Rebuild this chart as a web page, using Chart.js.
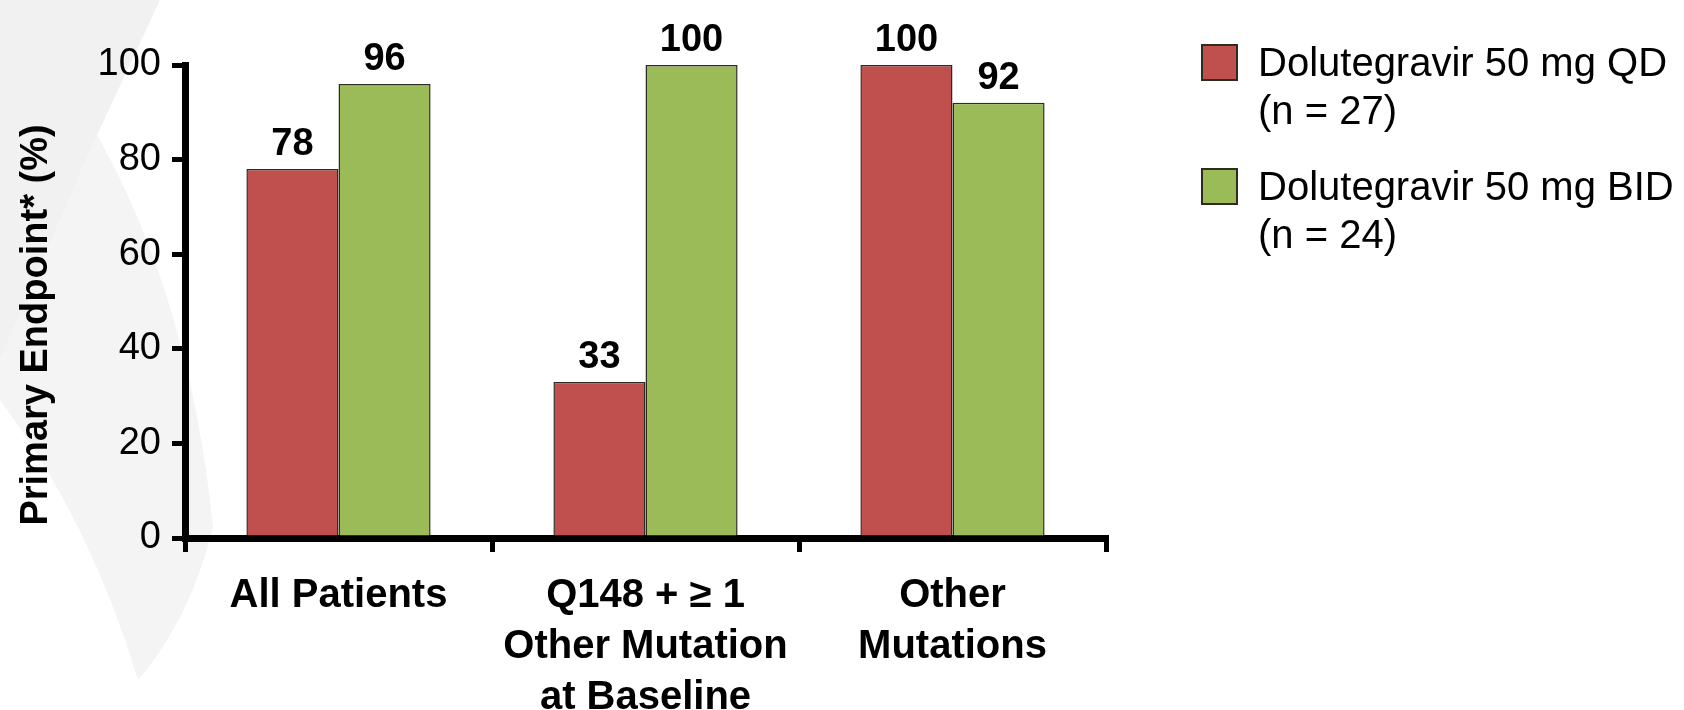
<!DOCTYPE html>
<html>
<head>
<meta charset="utf-8">
<script src="https://cdn.jsdelivr.net/npm/chart.js@4.4.1/dist/chart.umd.min.js"></script>
<style>
  html,body{margin:0;padding:0;background:#fff}
  #wrap{position:relative;width:1684px;height:710px}
</style>
</head>
<body>
<div id="wrap"><canvas id="gbar"></canvas></div>
<script>
/* ─ data ─ */
const categories=[['All Patients'],['Q148 + ≥ 1','Other Mutation','at Baseline'],['Other','Mutations']];
const qdValues=[78,33,100];
const bidValues=[96,100,92];
const seriesNames=['Dolutegravir 50 mg QD','Dolutegravir 50 mg BID'];
const seriesCounts=['(n = 27)','(n = 24)'];
const yTicks=[0,20,40,60,80,100];
const yTitle='Primary Endpoint* (%)';

const RED='#C0504D',GREEN='#9BBB59',EDGE='#2e2b22';
const FONT="'Liberation Sans', Arial, Helvetica, sans-serif";

/* ─ faint watermark behind the plot ─ */
const bgShape={
  id:'bgShape',
  beforeDraw(c){
    const x=c.ctx;
    x.save();
    x.fillStyle='#fff';x.fillRect(0,0,c.width,c.height);
    x.fillStyle='#f1f1f1';
    x.beginPath();x.moveTo(0,0);x.lineTo(160,0);x.lineTo(97,135);x.lineTo(0,360);x.closePath();x.fill();
    x.fillStyle='#f4f4f4';
    x.beginPath();x.moveTo(97,135);x.quadraticCurveTo(190,300,213,527);
    x.quadraticCurveTo(190,620,138,680);x.quadraticCurveTo(90,520,0,400);x.lineTo(0,360);x.closePath();x.fill();
    x.restore();
  }
};

/* ─ value labels, legend, y title ─ */
const extras={
  id:'extras',
  afterDatasetsDraw(c){
    const x=c.ctx;
    x.save();
    x.fillStyle='#000';
    x.font='bold 38px '+FONT;
    x.textAlign='center';x.textBaseline='alphabetic';
    c.data.datasets.forEach((ds,i)=>{
      c.getDatasetMeta(i).data.forEach((bar,j)=>{
        x.fillText(String(ds.data[j]),bar.x,bar.y-14);
      });
    });

    // legend
    const colors=[RED,GREEN],tops=[45,169];
    x.textAlign='left';
    x.font='40px '+FONT;
    seriesNames.forEach((n,i)=>{
      x.fillStyle=colors[i];
      x.fillRect(1202,tops[i],35,35);
      x.strokeStyle=EDGE;x.lineWidth=2;
      x.strokeRect(1202,tops[i],35,35);
      x.fillStyle='#000';
      x.fillText(n,1258,tops[i]+31);
      x.fillText(seriesCounts[i],1258,tops[i]+79);
    });

    // y title
    x.translate(47,325);x.rotate(-Math.PI/2);
    x.textAlign='center';
    x.font='bold 38px '+FONT;
    x.fillText(yTitle,0,0);
    x.restore();
  }
};

new Chart(document.getElementById('gbar'),{
  type:'bar',
  data:{
    labels:categories,
    datasets:[
      {label:seriesNames[0],data:qdValues,backgroundColor:RED,borderColor:EDGE,borderWidth:1.5},
      {label:seriesNames[1],data:bidValues,backgroundColor:GREEN,borderColor:EDGE,borderWidth:1.5}
    ]
  },
  options:{
    responsive:true,
    maintainAspectRatio:false,
    animation:false,
    layout:{padding:{left:0,top:65,right:578,bottom:0}},
    datasets:{bar:{categoryPercentage:0.6,barPercentage:1.0}},
    plugins:{legend:{display:false},tooltip:{enabled:false}},
    scales:{
      x:{
        grid:{offset:true,drawOnChartArea:false,color:'#000',tickLength:14,lineWidth:5},
        border:{color:'#000',width:7},
        ticks:{color:'#000',padding:18,font:{family:FONT,size:40,weight:'bold',lineHeight:1.275},maxRotation:0,autoSkip:false},
        afterFit(s){s.height=172;s.paddingLeft=0;s.paddingRight=0}
      },
      y:{
        min:0,max:100,
        afterBuildTicks(s){s.ticks=yTicks.map(v=>({value:v}))},
        grid:{drawOnChartArea:false,color:'#000',tickLength:13,lineWidth:5},
        border:{color:'#000',width:7},
        ticks:{color:'#000',padding:11,font:{family:FONT,size:38}},
        afterFit(s){s.width=185;s.paddingTop=0;s.paddingBottom=0}
      }
    }
  },
  plugins:[bgShape,extras]
});
</script>
</body>
</html>
